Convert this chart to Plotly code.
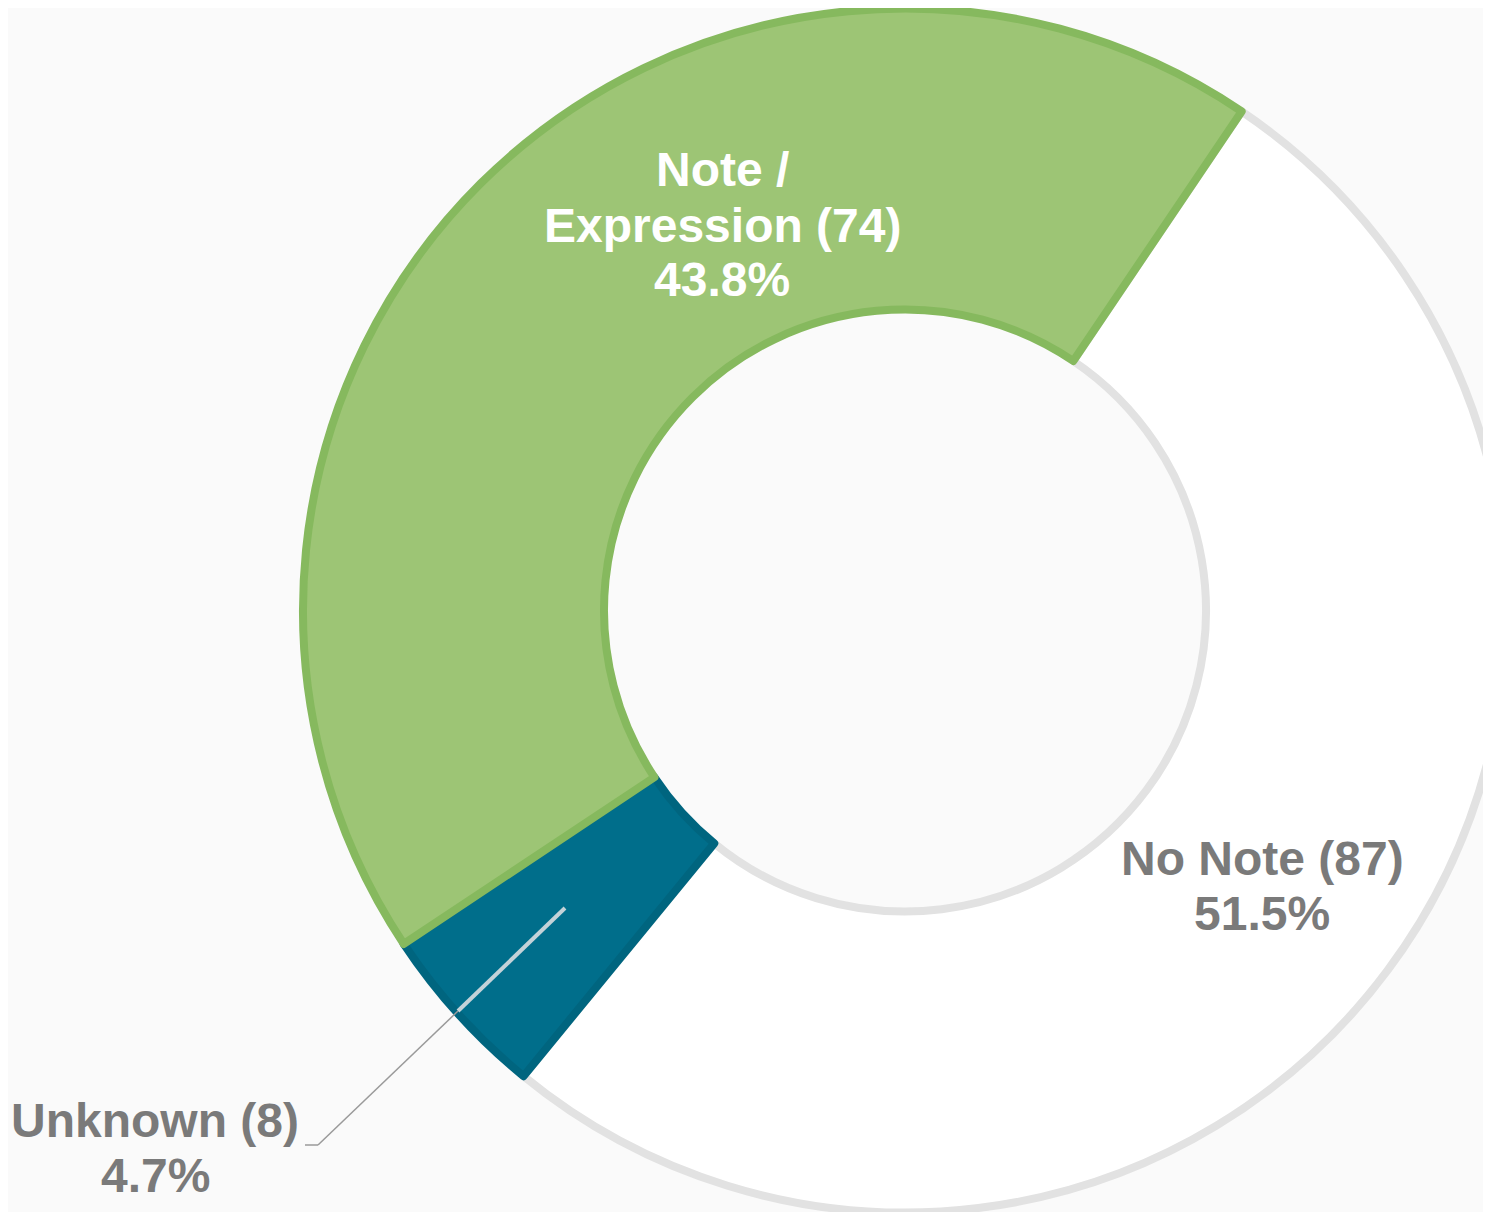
import plotly.graph_objects as go

# --- data (clockwise from the top-right edge of the white slice) ---
labels = ["No Note", "Unknown", "Note / Expression"]
counts = [87, 8, 74]
fills = ["#ffffff", "#006e8b", "#9dc575"]
borders = ["#e2e2e2", "#00657f", "#86b95e"]
text_colors = ["#7a7a7a", "#7a7a7a", "#ffffff"]

W, H = 1500, 1205
OFF = 8  # page body margin
total = sum(counts)
pcts = [c / total * 100 for c in counts]

fig = go.Figure()
fig.add_trace(go.Pie(
    labels=labels, values=counts, sort=False,
    direction="clockwise", rotation=34, hole=0.5,
    marker=dict(colors=fills, line=dict(color=borders, width=8)),
    textinfo="none", hoverinfo="skip", showlegend=False,
    domain=dict(x=[295 / W, 1499 / W], y=[0.0, 1.0]),
))

# label lines (page-pixel centres of the first text line)
label_lines = [
    [f"No Note ({counts[0]})", f"{pcts[0]:.1f}%"],
    [f"Unknown ({counts[1]})", f"{pcts[1]:.1f}%"],
    ["Note /", f"Expression ({counts[2]})", f"{pcts[2]:.1f}%"],
]
label_pos = [(1262, 858), (155, 1120), (722, 170)]
pitch = 55

for lines, (px, py), col in zip(label_lines, label_pos, text_colors):
    for k, line in enumerate(lines):
        fig.add_annotation(
            x=(px - OFF) / W, y=1 - (py + k * pitch - OFF) / H,
            xref="paper", yref="paper",
            text=f"<b>{line}</b>", showarrow=False,
            xanchor="center", yanchor="middle",
            font=dict(family="Liberation Sans, Arial", size=48, color=col),
        )

# leader line for "Unknown"
def seg(x0, y0, x1, y1, color, width):
    fig.add_shape(type="line", xref="paper", yref="paper",
                  x0=(x0 - OFF) / W, y0=1 - (y0 - OFF) / H,
                  x1=(x1 - OFF) / W, y1=1 - (y1 - OFF) / H,
                  line=dict(color=color, width=width))

seg(565, 908, 458, 1011, "#c3d2d8", 4)
seg(458, 1011, 318, 1145, "#9a9a9a", 1.5)
seg(318, 1145, 305, 1145, "#9a9a9a", 1.5)

fig.update_layout(
    width=W, height=H,
    margin=dict(l=0, r=0, t=0, b=0),
    paper_bgcolor="#fafafa", plot_bgcolor="#fafafa",
)

fig.write_html("out.html")
